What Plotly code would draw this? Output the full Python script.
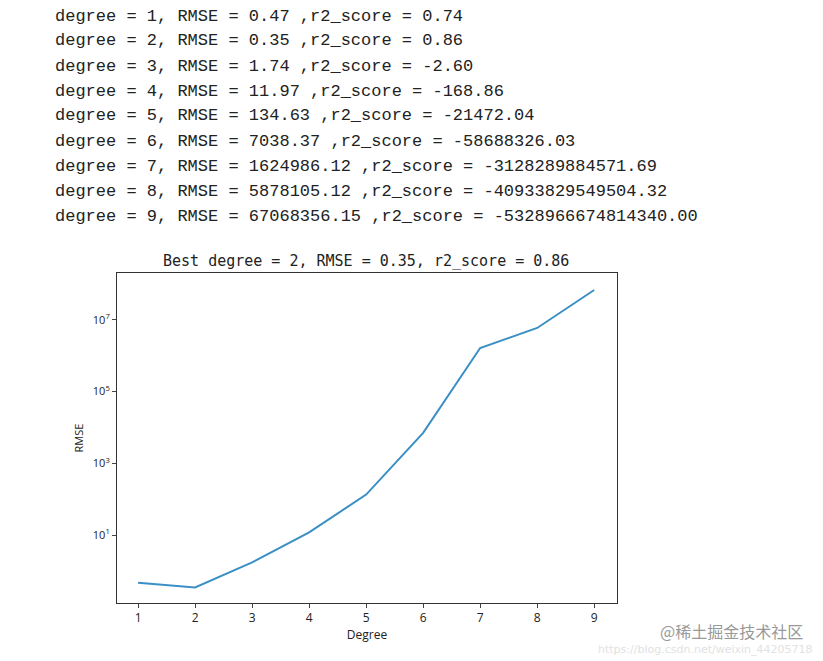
import plotly.graph_objects as go

degrees = [1, 2, 3, 4, 5, 6, 7, 8, 9]
rmse = [0.47, 0.35, 1.74, 11.97, 134.63, 7038.37, 1624986.12, 5878105.12, 67068356.15]
r2 = ["0.74", "0.86", "-2.60", "-168.86", "-21472.04", "-58688326.03",
      "-3128289884571.69", "-40933829549504.32", "-5328966674814340.00"]
rmse_txt = ["0.47", "0.35", "1.74", "11.97", "134.63", "7038.37",
            "1624986.12", "5878105.12", "67068356.15"]
tick_vals = [10, 1e3, 1e5, 1e7]
tick_text = ["10<sup>1</sup>", "10<sup>3</sup>", "10<sup>5</sup>", "10<sup>7</sup>"]

W, H = 823, 661
OFF = 8  # page offset
L, R, T, B = 117 - OFF, 206 + OFF, 273 - OFF, 58 + OFF
ph = H - T - B

def py(ypix):
    return (H - B - (ypix - OFF)) / ph

def px(xpix):
    return ((xpix - OFF) - L) / (W - L - R)

fig = go.Figure(go.Scatter(x=degrees, y=rmse, mode="lines",
                           line=dict(color="#3a8fc4", width=2), showlegend=False))

ann = []
for i, d in enumerate(degrees):
    ann.append(dict(text=f"degree = {d}, RMSE = {rmse_txt[i]} ,r2_score = {r2[i]}",
                    x=px(53), y=py(16 + 25 * i), xref="paper", yref="paper",
                    xanchor="left", yanchor="middle", showarrow=False,
                    font=dict(family="Liberation Mono", size=17, color="#222")))
ann.append(dict(text="Best degree = 2, RMSE = 0.35, r2_score = 0.86",
                x=px(366), y=py(261), xref="paper", yref="paper", showarrow=False,
                yanchor="middle",
                font=dict(family="DejaVu Sans Mono", size=15, color="#222")))
ann.append(dict(text="@稀土掘金技术社区", x=px(805), y=py(631), xref="paper", yref="paper",
                xanchor="right", yanchor="middle", showarrow=False,
                font=dict(family="Noto Sans CJK SC", size=16, color="#999")))
ann.append(dict(text="https://blog.csdn.net/weixin_44205718", x=px(815), y=py(649),
                xref="paper", yref="paper", xanchor="right", yanchor="middle", showarrow=False,
                font=dict(family="DejaVu Sans", size=11, color="#e2e2e2")))

fig.update_layout(
    width=W, height=H, margin=dict(l=L, r=R, t=T, b=B),
    paper_bgcolor="white", plot_bgcolor="white",
    annotations=ann,
    xaxis=dict(range=[0.63, 9.4], tickvals=degrees, showgrid=False, zeroline=False,
               showline=True, mirror=True, linecolor="#333", linewidth=1,
               ticks="outside", ticklen=4, tickfont=dict(size=12, color="#222"),
               title=dict(text="Degree", font=dict(size=12, color="#222"), standoff=4)),
    yaxis=dict(type="log", range=[-0.89, 8.3], tickvals=tick_vals, ticktext=tick_text,
               showgrid=False, zeroline=False, showline=True, mirror=True,
               linecolor="#333", linewidth=1, ticks="outside", ticklen=4,
               tickfont=dict(size=11, color="#222"),
               title=dict(text="RMSE", font=dict(size=11, color="#222"), standoff=6)),
)
fig.write_html("out.html")
